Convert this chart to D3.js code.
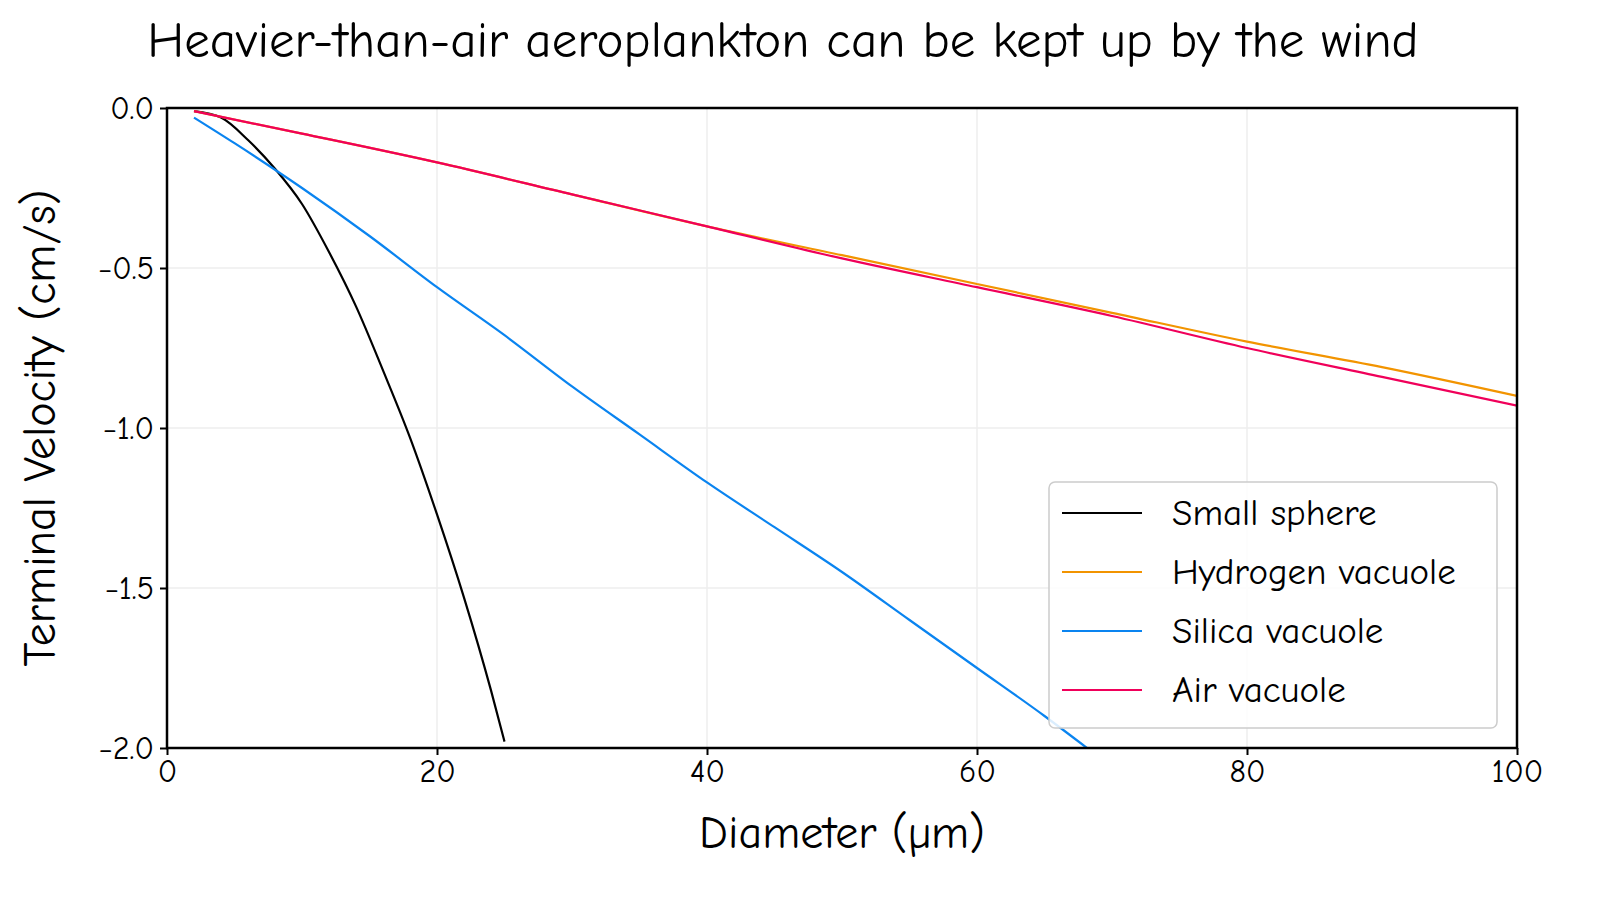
<!DOCTYPE html>
<html><head><meta charset="utf-8">
<script src="https://cdn.jsdelivr.net/npm/d3@7"></script>
<style>body{margin:0;background:#fff}text{font-family:"Comic Sans MS","Comic Neue","Humor Sans",Lato,sans-serif}</style>
</head><body><svg id="c" width="1600" height="900"></svg>
<script>
const sphereD = [2, 4, 6, 8, 10, 12, 14, 16, 18, 20, 22, 24, 25];
const sphereV = [-0.01, -0.03, -0.1, -0.19, -0.3, -0.45, -0.62, -0.82, -1.03, -1.27, -1.53, -1.82, -1.98];
const silicaD = [2, 5, 10, 15, 20, 25, 30, 35, 40, 45, 50, 55, 60, 65, 70];
const silicaV = [-0.03, -0.11, -0.25, -0.4, -0.56, -0.71, -0.87, -1.02, -1.17, -1.31, -1.45, -1.6, -1.75, -1.9, -2.06];
const gasD = [2, 10, 20, 30, 40, 50, 60, 70, 80, 90, 100];
const hydrogenV = [-0.01, -0.08, -0.17, -0.27, -0.37, -0.46, -0.55, -0.64, -0.73, -0.81, -0.9];
const airV = [-0.01, -0.08, -0.17, -0.27, -0.37, -0.47, -0.56, -0.65, -0.75, -0.84, -0.93];
const xTicks = [0, 20, 40, 60, 80, 100];
const yTicks = [0, -0.5, -1, -1.5, -2];

const svg = d3.select("#c");
const x = d3.scaleLinear().domain([0, 100]).range([167, 1517]);
const y = d3.scaleLinear().domain([-2, 0]).range([748, 108]);

// grid
svg.selectAll(".gx").data(xTicks).enter().append("line")
  .attr("x1", d => x(d)).attr("x2", d => x(d)).attr("y1", 108).attr("y2", 748)
  .attr("stroke", "#eee").attr("stroke-width", 1.5);
svg.selectAll(".gy").data(yTicks).enter().append("line")
  .attr("y1", d => y(d)).attr("y2", d => y(d)).attr("x1", 167).attr("x2", 1517)
  .attr("stroke", "#eee").attr("stroke-width", 1.5);

svg.append("defs").append("clipPath").attr("id", "clip")
  .append("rect").attr("x", 167).attr("y", 100).attr("width", 1350).attr("height", 648);

const line = d3.line().x(d => x(d[0])).y(d => y(d[1])).curve(d3.curveMonotoneX);
const series = [
  ["Small sphere", "#000000", sphereD, sphereV],
  ["Hydrogen vacuole", "#f29400", gasD, hydrogenV],
  ["Silica vacuole", "#0a84f0", silicaD, silicaV],
  ["Air vacuole", "#f0005a", gasD, airV]
];
const g = svg.append("g").attr("clip-path", "url(#clip)");
series.forEach(s => {
  g.append("path").datum(d3.zip(s[2], s[3])).attr("d", line)
    .attr("fill", "none").attr("stroke", s[1]).attr("stroke-width", 2.2);
});

// frame
svg.append("rect").attr("x", 167).attr("y", 108).attr("width", 1350).attr("height", 640)
  .attr("fill", "none").attr("stroke", "#000").attr("stroke-width", 2.5);

const xa = svg.append("g").attr("transform", "translate(0,748)")
  .call(d3.axisBottom(x).tickValues(xTicks).tickSize(7).tickPadding(4));
const ya = svg.append("g").attr("transform", "translate(167,0)")
  .call(d3.axisLeft(y).tickValues(yTicks).tickSize(7).tickPadding(6).tickFormat(d => d3.format(".1f")(d).replace("-", "−")));
[xa, ya].forEach(a => {
  a.select(".domain").remove();
  a.selectAll("line").attr("stroke-width", 2);
  a.selectAll("text").attr("font-size", 32).attr("fill", "#000");
});

svg.append("text").attr("x", 783).attr("y", 57).attr("text-anchor", "middle")
  .attr("font-size", 51).text("Heavier-than-air aeroplankton can be kept up by the wind");
svg.append("text").attr("x", 842).attr("y", 848).attr("text-anchor", "middle")
  .attr("font-size", 46).text("Diameter (µm)");
svg.append("text").attr("transform", "translate(55,428) rotate(-90)").attr("text-anchor", "middle")
  .attr("font-size", 46).text("Terminal Velocity (cm/s)");

// legend
const lg = svg.append("g");
lg.append("rect").attr("x", 1049).attr("y", 482).attr("width", 448).attr("height", 246).attr("rx", 6)
  .attr("fill", "#fff").attr("fill-opacity", 0.85).attr("stroke", "#ccc").attr("stroke-width", 1.5);
series.forEach((s, i) => {
  const yy = 513 + i * 59;
  lg.append("line").attr("x1", 1062).attr("x2", 1142).attr("y1", yy).attr("y2", yy)
    .attr("stroke", s[1]).attr("stroke-width", 2.2);
  lg.append("text").attr("x", 1172).attr("y", yy + 12).attr("font-size", 37).text(s[0]);
});
</script></body></html>
